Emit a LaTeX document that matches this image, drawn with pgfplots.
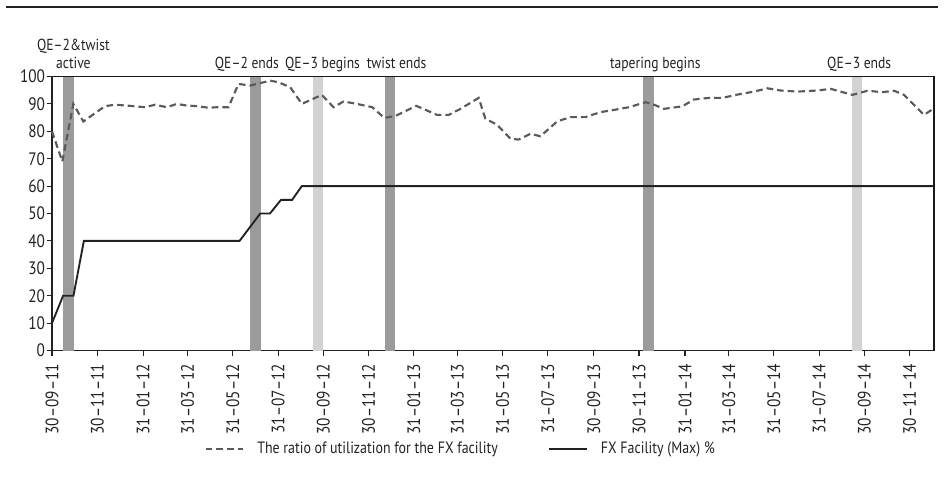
\documentclass[border=0pt]{standalone}
\usepackage{fontspec}
\setmainfont{PT Sans}[FakeStretch=0.85]
\usepackage{pgfplots}
\pgfplotsset{compat=1.18}

\definecolor{bandDark}{HTML}{9B9B9B}
\definecolor{bandLight}{HTML}{D2D2D2}
\definecolor{ratioGray}{HTML}{5A5A5A}
\definecolor{axisGray}{HTML}{222222}

\begin{document}
\begin{tikzpicture}
\begin{axis}[
    name=ax,
    scale only axis,
    width=661.5pt, height=205.5pt,
    xmin=0, xmax=1190,
    ymin=0, ymax=100,
    axis lines=box,
    axis line style={draw=axisGray, line width=1.1pt},
    ytick={0,10,...,100},
    xtick={0,61,123,183,244,305,366,427,488,547,608,669,731,792,854,913,974,1035,1096,1157},
    xticklabels={30--09--11,30--11--11,31--01--12,31--03--12,31--05--12,31--07--12,30--09--12,30--11--12,31--01--13,31--03--13,31--05--13,31--07--13,30--09--13,30--11--13,31--01--14,31--03--14,31--05--14,31--07--14,30--09--14,30--11--14},
    tick align=outside,
    xtick pos=bottom, ytick pos=left,
    major tick length=4pt,
    tick style={draw=axisGray, line width=0.8pt},
    /pgf/number format/assume math mode=true,
    yticklabel style={font=\fontsize{13.5}{14}\selectfont, inner sep=1pt, text=axisGray},
    xticklabel style={font=\fontsize{13.5}{14}\selectfont, rotate=90, anchor=east, inner sep=1pt, text=axisGray},
    xticklabel shift=5pt,
    clip=false,
    legend columns=2,
    legend style={draw=none, fill=none, at={(0.4637,-0.3595)}, anchor=center,
        font=\fontsize{12.3}{13}\selectfont, text=axisGray,
        /tikz/every odd column/.append style={column sep=8pt},
        /tikz/every even column/.append style={column sep=36pt}},
    legend image code/.code={\draw[#1] (0pt,0pt) -- (28pt,0pt);},
]
% event bands
\addplot[draw=none, fill=bandDark, forget plot] coordinates {(15.3,100) (29.3,100)} \closedcycle;
\addplot[draw=none, fill=bandDark, forget plot] coordinates {(267.4,100) (281.8,100)} \closedcycle;
\addplot[draw=none, fill=bandLight, forget plot] coordinates {(351.5,100) (365.5,100)} \closedcycle;
\addplot[draw=none, fill=bandDark, forget plot] coordinates {(448.8,100) (463.2,100)} \closedcycle;
\addplot[draw=none, fill=bandDark, forget plot] coordinates {(798,100) (812.6,100)} \closedcycle;
\addplot[draw=none, fill=bandLight, forget plot] coordinates {(1079,100) (1093.4,100)} \closedcycle;

% utilization ratio
\addplot[ratioGray, line width=1.6pt, dash pattern=on 5pt off 3pt] coordinates {
(0,80) (13.9,69) (28.8,90) (42.3,83.6) (71.6,89.2) (85.1,89.7) (100.9,89.4)
(125.6,88.8) (139.1,89.7) (154.9,88.8) (168.4,90) (181.9,89.4) (195.4,89.2)
(211.1,88.6) (222.4,88.8) (238.1,88.8) (251.6,97.3) (267.4,96.7) (294.4,98.5)
(305.6,97.9) (321.4,96.1) (337.2,90) (364,93.3) (379.9,88.8) (393.4,90.9)
(411.5,90) (432.1,88.8) (448.3,84.9) (463.2,85.6) (491.5,89.3) (519.5,86)
(535.2,86) (551,88.2) (575.7,92.2) (584.7,84.6) (600.5,82.4) (618.5,77.3)
(629.7,77) (645.5,79.1) (659,78.2) (681.5,83.6) (699.5,85.2) (719.8,85.2)
(740,87) (758,87.8) (778.2,88.8) (800.8,90.6) (809.8,90) (825.5,88.2)
(850.3,89.1) (866,91.6) (886.3,92.2) (904.4,92.2) (924.6,93.4) (947,94.5)
(965.2,95.7) (983.1,94.9) (1005.7,94.5) (1032.7,94.9) (1050.7,95.5)
(1066.4,94.3) (1079.9,93.3) (1100.2,94.8) (1120.4,94.3) (1136.1,94.8)
(1149.6,93.3) (1176.6,86) (1190,88.4)
};
\addlegendentry{The ratio of utilization for the FX facility}

% FX facility max
\addplot[axisGray, line width=1.4pt] coordinates {
(0,10) (15,20) (29,20) (43,40) (253,40) (281,50) (294,50) (309,55) (324,55) (337,60) (1190,60)
};
\addlegendentry{FX Facility (Max) \%}

% event labels
\begin{scope}[every node/.style={font=\fontsize{12}{13.7}\selectfont, text=axisGray, anchor=base}]
\node[align=center] at (axis cs:28.8,100) [yshift=6pt] {QE--2\&twist\\active};
\node at (axis cs:263,100) [yshift=6pt] {QE--2 ends};
\node at (axis cs:365,100) [yshift=6pt] {QE--3 begins};
\node at (axis cs:465,100) [yshift=6pt] {twist ends};
\node at (axis cs:813.9,100) [yshift=6pt] {tapering begins};
\node at (axis cs:1089.1,100) [yshift=6pt] {QE--3 ends};
\end{scope}
\end{axis}
\draw[black!90, line width=1.2pt] (ax.north west) -- (ax.north east) -- (ax.south east);
\draw[axisGray, line width=1pt] (-34.5pt,257.6pt) -- (664.5pt,257.6pt);
\pgfresetboundingbox
\path (-39pt,-103.1pt) rectangle (669.75pt,262.9pt);
\end{tikzpicture}
\end{document}
